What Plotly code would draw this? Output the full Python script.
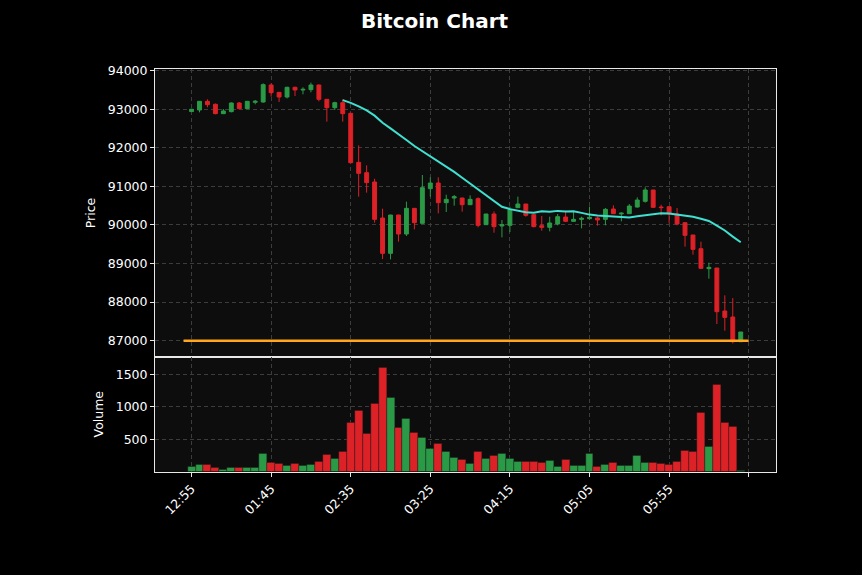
import pandas as pd
import plotly.graph_objects as go

# ---- data (5-minute candles) ----
opens = [92940, 92981, 93206, 93128, 92886, 92938, 93162, 93016, 93180, 93188,
         93629, 93439, 93318, 93569, 93500, 93508, 93629, 93258, 93041, 93171,
         92895, 91624, 91356, 91114, 90181, 89264, 90258, 89766, 90431, 90043,
         90941, 91088, 90578, 90699, 90699, 90526, 90682, 90008, 90284, 89974,
         89990, 90449, 90543, 90267, 89982, 89939, 90025, 90206, 90094, 90146,
         90164, 90181, 90146, 90414, 90285, 90293, 90465, 90613, 90907, 90465,
         90474, 90284, 90060, 89740, 89385, 88867, 88884, 87769, 87614, 86974]
highs = [93010, 93215, 93258, 93150, 93007, 93180, 93188, 93215, 93240, 93672,
         93672, 93439, 93585, 93585, 93569, 93690, 93640, 93265, 93197, 93258,
         92905, 92065, 91546, 91200, 90423, 90265, 90265, 90604, 90440, 91296,
         91235, 91235, 90786, 90777, 90705, 90768, 90716, 90290, 90353, 90129,
         90474, 90734, 90545, 90275, 90232, 90215, 90284, 90370, 90353, 90215,
         90474, 90215, 90440, 90509, 90330, 90543, 90716, 90976, 90910, 90526,
         90476, 90439, 90062, 89742, 89567, 89022, 88886, 88175, 88106, 87225]
lows = [92930, 92920, 93050, 92870, 92875, 92920, 93005, 93005, 93128, 93170,
        93327, 93188, 93280, 93344, 93387, 93439, 93206, 92678, 92981, 92678,
        91600, 90734, 90838, 90060, 89117, 89108, 89567, 89714, 89887, 90040,
        90734, 90302, 90336, 90501, 90345, 90515, 89939, 90000, 89800, 89679,
        89818, 90440, 90215, 89939, 89852, 89835, 89990, 90080, 90080, 89913,
        90140, 89982, 89990, 90285, 90094, 90285, 90450, 90580, 90440, 90250,
        90043, 89990, 89437, 89230, 88860, 88607, 87432, 87259, 86930, 86970]
closes = [93000, 93206, 93119, 92886, 92955, 93162, 93016, 93206, 93206, 93638,
          93430, 93318, 93569, 93500, 93517, 93629, 93258, 93041, 93171, 92886,
          91615, 91339, 91097, 90146, 89264, 90258, 89766, 90431, 90060, 90967,
          91088, 90578, 90665, 90734, 90526, 90665, 89990, 90284, 89956, 90008,
          90405, 90543, 90250, 89956, 89939, 90051, 90215, 90094, 90146, 90172,
          90198, 90129, 90405, 90293, 90305, 90491, 90647, 90907, 90457, 90450,
          90284, 90025, 89731, 89368, 88875, 88901, 87752, 87605, 86974, 87225]
volumes = [74, 105, 105, 69, 38, 69, 69, 69, 54, 274,
           135, 120, 100, 120, 89, 105, 151, 258, 197, 315,
           761, 935, 592, 1043, 1607, 1135, 684, 823, 607, 530,
           361, 438, 315, 212, 192, 120, 315, 207, 253, 274,
           207, 161, 151, 151, 131, 167, 84, 192, 89, 100,
           274, 84, 105, 135, 89, 89, 243, 146, 135, 120,
           110, 151, 330, 315, 915, 392, 1346, 761, 689, 12]
tick_positions = [0, 10, 20, 30, 40, 50, 60, 70]
tick_labels = ["12:55", "01:45", "02:35", "03:25", "04:15", "05:05", "05:55", ""]
support_level = 87000
ma_period = 20

UP = "#2b9a47"
DOWN = "#dc2127"

idx = list(range(len(closes)))
ma = pd.Series(closes).rolling(ma_period).mean()
vol_colors = [UP if c >= o else DOWN for o, c in zip(opens, closes)]

fig = go.Figure()
fig.add_trace(go.Candlestick(
    x=idx, open=opens, high=highs, low=lows, close=closes,
    increasing=dict(line=dict(color=UP, width=1), fillcolor=UP),
    decreasing=dict(line=dict(color=DOWN, width=1), fillcolor=DOWN),
    whiskerwidth=0, xaxis="x", yaxis="y", showlegend=False, hoverinfo="skip"))
fig.add_trace(go.Scatter(
    x=idx, y=ma, mode="lines", line=dict(color="#40e0d0", width=2),
    xaxis="x", yaxis="y", showlegend=False, hoverinfo="skip"))
fig.add_trace(go.Scatter(
    x=[idx[0] - 1, idx[-1] + 1], y=[support_level, support_level], mode="lines",
    line=dict(color="#ffa51f", width=2.5),
    xaxis="x", yaxis="y", showlegend=False, hoverinfo="skip"))
fig.add_trace(go.Bar(
    x=idx, y=volumes, marker=dict(color=vol_colors, line=dict(color="#1a1a1a", width=0.4)),
    width=1.0, xaxis="x2", yaxis="y2", showlegend=False, hoverinfo="skip"))

font = dict(family="DejaVu Sans", size=12.5, color="#ffffff")
title_font = dict(family="DejaVu Sans", size=12.5, color="#ffffff")
grid = dict(showgrid=True, gridcolor="#3c3c3c", griddash="4px,3px", gridwidth=1)
frame = dict(showline=True, mirror=True, linecolor="#e8e8e8", linewidth=1, automargin=False)
xdom = [155 / 862, 776 / 862]
xr = [-4.59, 73.43]

fig.update_layout(
    width=862, height=575, autosize=False,
    margin=dict(l=0, r=0, t=0, b=0, pad=0),
    paper_bgcolor="#000000", plot_bgcolor="#0d0d0d",
    font=font, bargap=0,
    xaxis=dict(domain=xdom, range=xr, anchor="y", tickvals=tick_positions,
               showticklabels=False, ticks="", rangeslider=dict(visible=False),
               zeroline=False, **grid, **frame),
    yaxis=dict(domain=[1 - 356.7 / 575, 1 - 69.3 / 575], range=[86585, 94036],
               anchor="x", tickvals=[87000, 88000, 89000, 90000, 91000, 92000, 93000, 94000],
               tickformat="d", ticks="outside", ticklen=4, tickcolor="#e8e8e8",
               zeroline=False, title=dict(text="Price", standoff=9, font=title_font),
               **grid, **frame),
    xaxis2=dict(domain=xdom, range=xr, anchor="y2", tickvals=tick_positions,
                ticktext=tick_labels, tickangle=-45, ticks="outside", ticklen=4,
                tickcolor="#e8e8e8", zeroline=False, **grid, **frame),
    yaxis2=dict(domain=[1 - 471.7 / 575, 1 - 356.7 / 575], range=[0, 1771],
                anchor="x2", tickvals=[500, 1000, 1500], ticks="outside", ticklen=4,
                tickcolor="#e8e8e8", zeroline=False,
                title=dict(text="Volume", standoff=9, font=title_font), **grid, **frame),
    annotations=[dict(text="<b>Bitcoin Chart</b>", x=0.505, y=1 - 21 / 575,
                      xref="paper", yref="paper", showarrow=False,
                      font=dict(family="DejaVu Sans", size=20, color="#ffffff"),
                      xanchor="center", yanchor="middle")],
)

fig.write_html(
    "out.html",
    config={"displayModeBar": False},
    post_script="document.body.style.margin='0';document.body.style.background='#000';",
)
